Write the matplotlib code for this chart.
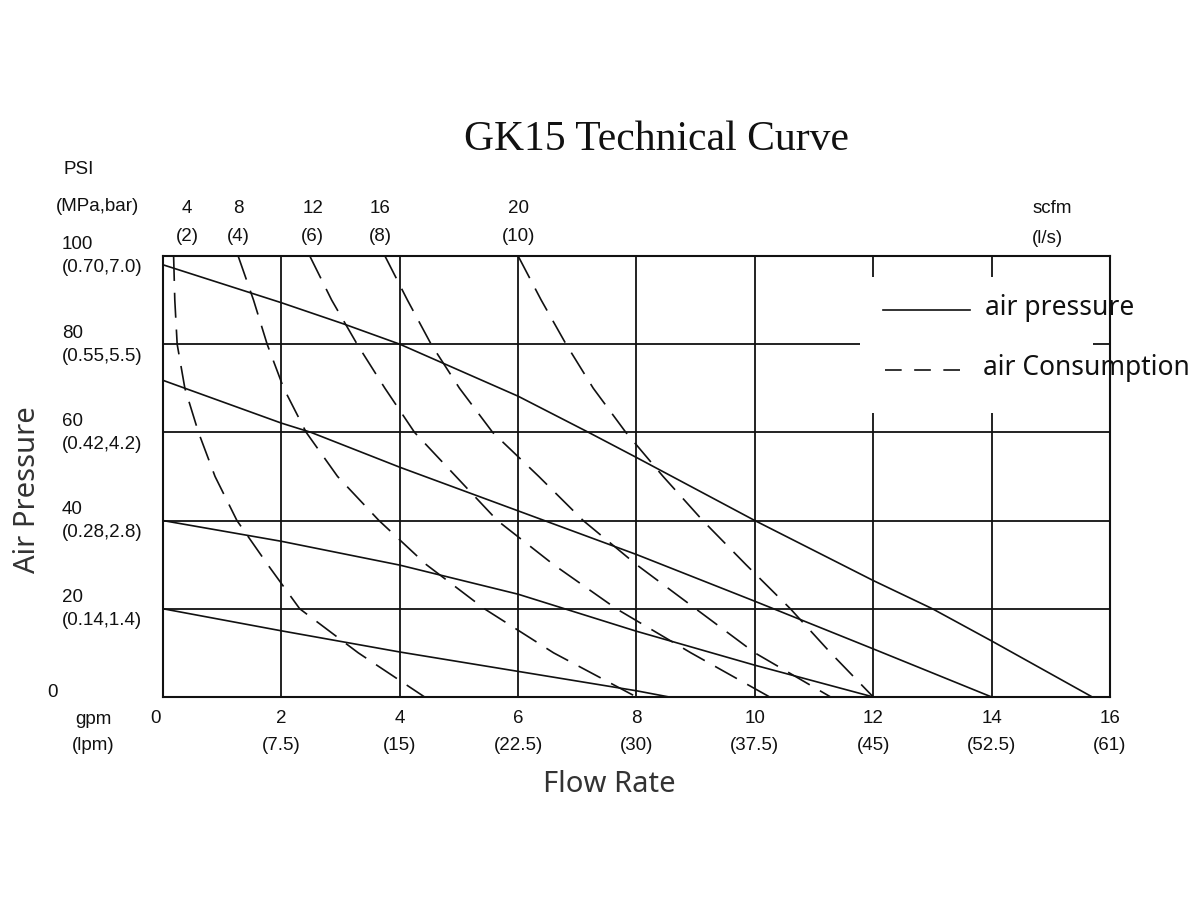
import numpy as np
import matplotlib
matplotlib.use("Agg")
import matplotlib.pyplot as plt
from matplotlib.patches import Rectangle

# ---- data (x = gpm, y = psi) ----
# air pressure curves (solid)
press_a_x = [0, 2, 3.05, 4, 5, 6, 7.19, 8, 10, 12, 13, 14, 15.7]
press_a_y = [98, 89.4, 84.6, 80, 74.1, 68.2, 60, 54.3, 40, 26.4, 20, 12.7, 0]
press_b_x = [0, 2, 2.5, 4, 6, 8, 10, 12, 14]
press_b_y = [71.8, 62.1, 60, 52.1, 42.2, 32.3, 21.7, 10.9, 0]
press_c_x = [0, 2, 4, 6, 8, 10, 12]
press_c_y = [40, 35.3, 29.9, 23.3, 14.9, 7.2, 0]
press_d_x = [0, 2, 3, 4, 6, 8, 8.55]
press_d_y = [20, 15, 12.6, 10.2, 5.8, 1.4, 0]

# air consumption curves (dashed), sampled at fixed psi levels
cons_psi = [100, 90, 80, 70, 60, 50, 40, 30, 20, 10, 0]
cons_4 = [0.18, 0.2, 0.24, 0.37, 0.6, 0.88, 1.25, 1.77, 2.31, 3.3, 4.42]
cons_8 = [1.27, 1.53, 1.76, 2.04, 2.42, 2.95, 3.65, 4.45, 5.43, 6.6, 8.0]
cons_12 = [2.48, 2.85, 3.28, 3.75, 4.25, 4.95, 5.65, 6.6, 7.66, 8.92, 10.25]
cons_16 = [3.75, 4.13, 4.53, 5.01, 5.57, 6.35, 7.1, 8.0, 9.0, 10.0, 11.28]
cons_20 = [6.0, 6.39, 6.81, 7.27, 7.82, 8.45, 9.12, 9.85, 10.6, 11.28, 12.0]

# axis labels
x_ticks = [2, 4, 6, 8, 10, 12, 14, 16]
x_lpm = ["(7.5)", "(15)", "(22.5)", "(30)", "(37.5)", "(45)", "(52.5)", "(61)"]
y_ticks = [100, 80, 60, 40, 20]
y_mpa = ["(0.70,7.0)", "(0.55,5.5)", "(0.42,4.2)", "(0.28,2.8)", "(0.14,1.4)"]
scfm_pos = [0.41, 1.27, 2.53, 3.67, 6.0]
scfm_vals = ["4", "8", "12", "16", "20"]
scfm_ls = ["(2)", "(4)", "(6)", "(8)", "(10)"]

ink = "#111111"
narrow = ["DejaVu Sans Condensed", "Liberation Sans"]
soft = ["Noto Sans", "DejaVu Sans"]
fs = 13.5

plt.rcParams["lines.scale_dashes"] = False

fig = plt.figure(figsize=(12, 9), dpi=100)
ax = fig.add_axes([0.1358, 0.2256, 0.7892, 0.49])
ax.set_xlim(0, 16)
ax.set_ylim(0, 100)
ax.set_xticks([])
ax.set_yticks([])
for s in ax.spines.values():
    s.set_linewidth(1.5)
    s.set_color(ink)
    s.set_zorder(5)

# grid
for gx in [2, 4, 6, 8, 10, 12, 14]:
    ax.axvline(gx, color=ink, lw=1.3, zorder=1)
for gy in [20, 40, 60, 80]:
    ax.axhline(gy, color=ink, lw=1.3, zorder=1)
# blank area behind the legend
ax.add_patch(Rectangle((11.77, 64.5), 15.71 - 11.77, 95.2 - 64.5,
                       facecolor="white", edgecolor="none", zorder=1.5))

# curves
for xs, ys in [(press_a_x, press_a_y), (press_b_x, press_b_y),
               (press_c_x, press_c_y), (press_d_x, press_d_y)]:
    ax.plot(xs, ys, color=ink, lw=1.2, zorder=3, solid_capstyle="butt")
for xs in [cons_4, cons_8, cons_12, cons_16, cons_20]:
    ax.plot(xs, cons_psi, color=ink, lw=1.2, dashes=(18, 8.5), zorder=3,
            dash_capstyle="butt")

# legend drawn by hand
ax.plot([12.16, 13.63], [87.7, 87.7], color=ink, lw=1.2, zorder=4, clip_on=False)
ax.plot([12.2, 13.67], [74.1, 74.1], color=ink, lw=1.2, dashes=(12, 9),
        zorder=4, clip_on=False)
ax.text(13.89, 88.3, "air pressure", family=soft, fontsize=19, color=ink,
        fontweight="light", va="center", ha="left", zorder=6, clip_on=False)
ax.text(13.85, 74.7, "air Consumption", family=soft, fontsize=19, color=ink,
        fontweight="light", va="center", ha="left", zorder=6, clip_on=False)

# bottom tick labels
xt = ax.get_xaxis_transform()
ax.text(-0.12, -0.048, "0", transform=xt, ha="center", va="center",
        family=narrow, fontsize=fs, color=ink)
for v, lab in zip(x_ticks, x_lpm):
    ax.text(v, -0.048, str(v), transform=xt, ha="center", va="center",
            family=narrow, fontsize=fs, color=ink)
    ax.text(v, -0.109, lab, transform=xt, ha="center", va="center",
            family=narrow, fontsize=fs, color=ink)
ax.text(-1.18, -0.052, "gpm", transform=xt, ha="center", va="center",
        family=narrow, fontsize=fs, color=ink)
ax.text(-1.18, -0.111, "(lpm)", transform=xt, ha="center", va="center",
        family=narrow, fontsize=fs, color=ink)

# left tick labels
yt = ax.get_yaxis_transform()
lx = (62 - 163) / 947
for v, lab in zip(y_ticks, y_mpa):
    ax.text(lx, v + 2.5, str(v), transform=yt, ha="left", va="center",
            family=narrow, fontsize=fs, color=ink)
    ax.text(lx, v - 2.7, lab, transform=yt, ha="left", va="center",
            family=narrow, fontsize=fs, color=ink)
ax.text((47 - 163) / 947, 1, "0", transform=yt, ha="left", va="center",
        family=narrow, fontsize=fs, color=ink)
ax.text((64 - 163) / 947, 119.5, "PSI", transform=yt, ha="left", va="center",
        family=narrow, fontsize=fs, color=ink)
ax.text((56 - 163) / 947, 111.3, "(MPa,bar)", transform=yt, ha="left",
        va="center", family=narrow, fontsize=fs, color=ink)

# top scfm labels
for v, a, b in zip(scfm_pos, scfm_vals, scfm_ls):
    ax.text(v, 110.7, a, ha="center", va="center", family=narrow,
            fontsize=fs, color=ink, clip_on=False)
    ax.text(v, 104.5, b, ha="center", va="center", family=narrow,
            fontsize=fs, color=ink, clip_on=False)
ax.text(15.03, 110.7, "scfm", ha="center", va="center", family=narrow,
        fontsize=fs, color=ink, clip_on=False)
ax.text(14.95, 103.9, "(l/s)", ha="center", va="center", family=narrow,
        fontsize=fs, color=ink, clip_on=False)

# titles
fig.text(0.5475, 0.845, "GK15 Technical Curve", family=["Liberation Serif", "DejaVu Serif"],
         fontsize=30, ha="center", va="center", color=ink)
fig.text(0.508, 0.128, "Flow Rate", family=soft, fontsize=21, fontweight="light",
         ha="center", va="center", color="#333333")
fig.text(0.023, 0.456, "Air Pressure", family=soft, fontsize=21, fontweight="light",
         rotation=90, ha="center", va="center", color="#333333")

fig.savefig("out.png", dpi=100, facecolor="white")
